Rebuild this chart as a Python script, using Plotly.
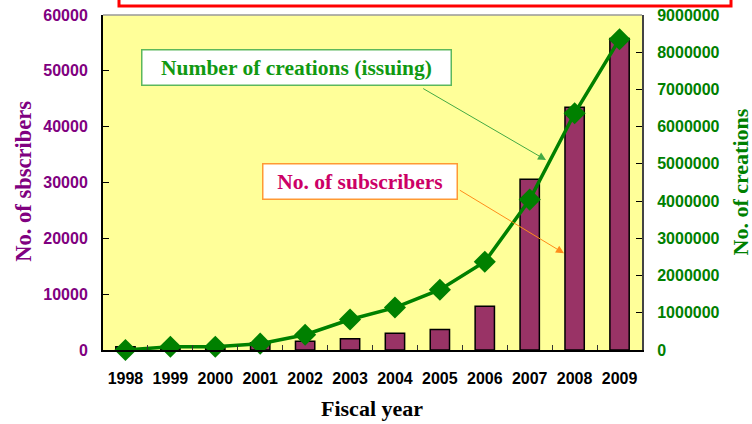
import plotly.graph_objects as go

years = ["1998", "1999", "2000", "2001", "2002", "2003", "2004", "2005", "2006", "2007", "2008", "2009"]
subscribers = [570, 500, 700, 1300, 1570, 2000, 3000, 3670, 7830, 30600, 43500, 55800]
creations = [0, 86000, 86000, 170000, 410000, 820000, 1140000, 1620000, 2370000, 4040000, 6360000, 8350000]

left_ticks = [0, 10000, 20000, 30000, 40000, 50000, 60000]
right_ticks = [0, 1000000, 2000000, 3000000, 4000000, 5000000, 6000000, 7000000, 8000000, 9000000]

PURPLE = "#800080"
GREEN = "#008000"
SERIF = "Liberation Serif, Times New Roman, serif"
SANS = "Liberation Sans, Arial, sans-serif"

fig = go.Figure()
fig.add_trace(go.Bar(
    x=years, y=subscribers, name="No. of subscribers",
    marker=dict(color="#993366", line=dict(color="#000000", width=1.5)),
    width=0.43, yaxis="y",
))
fig.add_trace(go.Scatter(
    x=years, y=creations, name="Number of creations (issuing)",
    mode="lines+markers", yaxis="y2", cliponaxis=False,
    line=dict(color=GREEN, width=3.5),
    marker=dict(symbol="diamond", size=17, color=GREEN),
))

W, H = 752, 424
L, R, T, B = 103, 110, 15, 74

fig.update_layout(
    width=W, height=H,
    margin=dict(l=L, r=R, t=T, b=B, pad=0, autoexpand=False),
    paper_bgcolor="white",
    plot_bgcolor="#FFFF99",
    showlegend=False,
    bargap=0.57,
    xaxis=dict(
        type="category", automargin=False, tickangle=0,
        range=[-0.5, len(years) - 0.5],
        showline=True, linecolor="#000000", linewidth=2,
        ticks="inside", tickson="boundaries", ticklen=5, tickcolor="#333333",
        tickfont=dict(family=SANS, size=16, color="#000000", weight="bold"),
        ticklabelstandoff=13,
        showgrid=False, zeroline=False,
    ),
    yaxis=dict(
        automargin=False,
        range=[0, 60000], tickvals=left_ticks, ticktext=[str(v) for v in left_ticks],
        showline=True, linecolor="#000000", linewidth=2,
        ticks="inside", ticklen=6, tickcolor="#000000",
        tickfont=dict(family=SANS, size=16, color=PURPLE, weight="bold"),
        ticklabelstandoff=10,
        showgrid=False, zeroline=False,
    ),
    yaxis2=dict(
        automargin=False,
        range=[0, 9000000], tickvals=right_ticks, ticktext=[str(v) for v in right_ticks],
        overlaying="y", side="right",
        showline=True, linecolor="#444444", linewidth=2,
        ticks="inside", ticklen=6, tickcolor="#000000",
        tickfont=dict(family=SANS, size=16, color=GREEN, weight="bold"),
        ticklabelstandoff=10,
        showgrid=False, zeroline=False,
    ),
)

pw = W - L - R
ph = H - T - B

def px_to_paper(px, py):
    return (px - L) / pw, (H - B - py) / ph

shapes = []
shapes.append(dict(type="line", xref="paper", yref="paper", x0=0, x1=1, y0=1, y1=1,
                   line=dict(color="#999999", width=1.5)))
x0, y0 = px_to_paper(119, 6)
x1, y1 = px_to_paper(731, -10)
shapes.append(dict(type="rect", xref="paper", yref="paper", x0=x0, x1=x1, y0=y0, y1=y1,
                   line=dict(color="#FF0000", width=3), fillcolor="rgba(0,0,0,0)"))
fig.update_layout(shapes=shapes)

def idx(px):
    return (px - (L + pw / 24)) / (pw / 12)

def val(py):
    return (H - B - py) / ph * 60000

ann = []
ann.append(dict(x=idx(546), y=val(160), ax=idx(421.7), ay=val(87.7),
                xref="x", yref="y", axref="x", ayref="y", text="",
                showarrow=True, arrowhead=2, arrowsize=1.6, arrowwidth=1, arrowcolor="#44AA44"))
ann.append(dict(x=idx(564), y=val(253.3), ax=idx(458.3), ay=val(189.3),
                xref="x", yref="y", axref="x", ayref="y", text="",
                showarrow=True, arrowhead=2, arrowsize=1.6, arrowwidth=1, arrowcolor="#FF8C1A"))
gx, gy = px_to_paper(296.2, 67.7)
ann.append(dict(x=gx, y=gy, xref="paper", yref="paper", xanchor="center", yanchor="middle",
                text="<b>Number of creations (issuing)</b>", showarrow=False,
                font=dict(family=SERIF, size=21.5, color="#119911"),
                bgcolor="white", bordercolor="#5CB85C", borderwidth=1.5,
                width=306, height=32, borderpad=1))
ox, oy = px_to_paper(359.9, 181.3)
ann.append(dict(x=ox, y=oy, xref="paper", yref="paper", xanchor="center", yanchor="middle",
                text="<b>No. of subscribers</b>", showarrow=False,
                font=dict(family=SERIF, size=21.5, color="#CC0066"),
                bgcolor="white", bordercolor="#FF9933", borderwidth=1.5,
                width=191, height=32, borderpad=1))
tx, ty = px_to_paper(22.7, 181)
ann.append(dict(x=tx, y=ty, xref="paper", yref="paper", xanchor="center", yanchor="middle",
                text="<b>No. of sbscribers</b>", textangle=-90, showarrow=False,
                font=dict(family=SERIF, size=22.5, color=PURPLE)))
tx, ty = px_to_paper(739.5, 182)
ann.append(dict(x=tx, y=ty, xref="paper", yref="paper", xanchor="center", yanchor="middle",
                text="<b>No. of creations</b>", textangle=-90, showarrow=False,
                font=dict(family=SERIF, size=22, color=GREEN)))
tx, ty = px_to_paper(372, 408)
ann.append(dict(x=tx, y=ty, xref="paper", yref="paper", xanchor="center", yanchor="middle",
                text="<b>Fiscal year</b>", showarrow=False,
                font=dict(family=SERIF, size=22, color="#000000")))
fig.update_layout(annotations=ann)

fig.write_html("out.html", config={"displayModeBar": False},
               post_script="document.body.style.margin='0';document.body.style.overflow='hidden';")
